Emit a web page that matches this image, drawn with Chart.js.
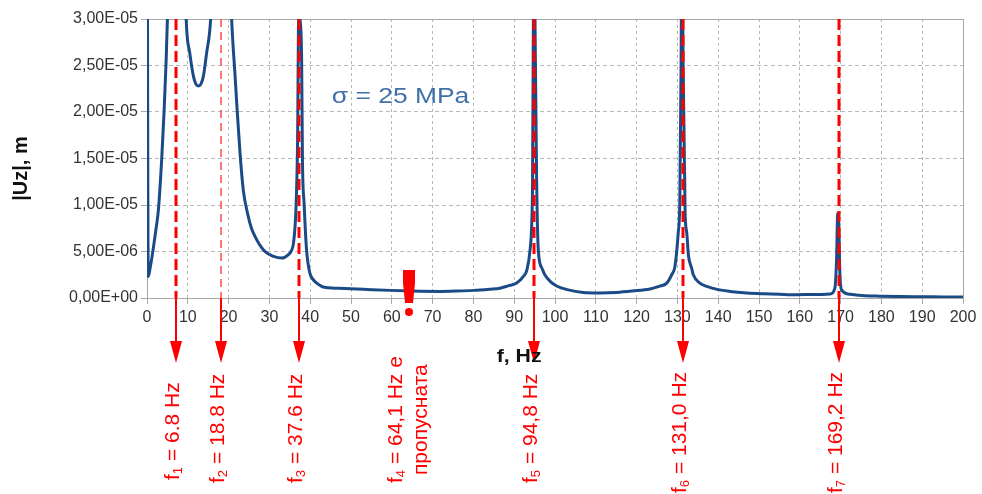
<!DOCTYPE html>
<html>
<head>
<meta charset="utf-8">
<script src="https://cdn.jsdelivr.net/npm/chart.js@4.4.1/dist/chart.umd.min.js"></script>
<style>
  html, body { margin: 0; padding: 0; background: #fff; }
  #wrap { width: 982px; height: 494px; }
</style>
</head>
<body>
<div id="wrap"><canvas id="chart" width="982" height="494"></canvas></div>
<script>
// frequency, Hz
const freq = [
  0, 0.3, 0.8, 1.5, 2.2, 2.8, 3.6, 4.2, 4.7, 5.0, 5.5, 6.0, 7.2, 8.5, 9.6, 10.5, 11.4, 12.0, 12.6, 13.2, 13.8, 14.6, 15.6, 16.5,
  18.2, 20.0, 20.75, 21.6, 22.1, 22.8, 23.6, 24.8, 25.6, 26.5, 27.5, 28.5, 29.7, 31.0, 33.0, 34.6, 35.4, 35.9, 36.5, 36.9, 37.2, 37.5, 37.9, 38.1,
  38.5, 39.1, 39.9, 40.7, 41.6, 43.2, 47, 51.4, 55, 59.6, 65, 71.8, 76, 80, 84, 86.5, 88.5, 90.6, 92.2, 93.1, 93.9,
  94.3, 94.5, 94.7, 94.9, 95.1, 95.5, 95.9, 96.8, 97.5, 99, 100.4, 103, 106.9, 111, 115.1, 119, 123.3, 125.5, 127.4, 128.6,
  129.4, 130.2, 130.6, 130.9, 131.1, 131.4, 131.9, 132.3, 132.7, 133.5, 133.9, 135.5, 137.2, 140, 142.9, 147, 151.1, 155, 159.2, 163,
  167.4, 168.6, 169.0, 169.3, 169.6, 169.8, 170.2, 172.3, 176, 179.7, 185, 190, 195, 200
];
// |Uz|, x 1e-6 m
const ampE6 = [
  60, 2.3, 3.3, 5.2, 7.4, 9.5, 14.9, 20.2, 25.6, 30, 40, 55, 120, 50, 30, 26.3, 23.8, 23.0, 22.8, 23.0, 23.8, 26.3, 30, 40,
  110, 40, 30, 23.8, 20.2, 15.6, 11.6, 8.8, 7.5, 6.6, 5.8, 5.2, 4.75, 4.47, 4.3, 4.65, 5.1, 5.9, 9.5, 16.7, 31, 30, 25.6, 14.9,
  10.2, 5.2, 2.7, 2.0, 1.6, 1.18, 1.05, 0.97, 0.9, 0.82, 0.75, 0.71, 0.75, 0.82, 0.95, 1.05, 1.3, 1.6, 2.3, 3.0, 5.2,
  8, 12.7, 30, 40, 30, 12.7, 5.2, 3.2, 2.5, 1.7, 1.29, 0.9, 0.6, 0.55, 0.6, 0.75, 0.97, 1.25, 1.6, 2.5,
  3.4, 7, 10.6, 25, 40, 25, 9, 7, 4.6, 3.2, 2.5, 1.6, 1.25, 0.9, 0.71, 0.55, 0.46, 0.4, 0.35, 0.38,
  0.43, 1.07, 4, 9.1, 7, 3, 0.9, 0.4, 0.25, 0.2, 0.15, 0.14, 0.12, 0.11
];

// natural frequencies marked below the axis
const modeFreq = [7.2, 18.2, 37.2, 64.1, 94.9, 131.3, 169.7];
const modeSub = ['1', '2', '3', '4', '5', '6', '7'];
const modeText = [' = 6.8 Hz', ' = 18.8 Hz', ' = 37.6 Hz', ' = 64,1 Hz е', ' = 94,8 Hz', ' = 131,0 Hz', ' = 169,2 Hz'];
const modeMissed = [false, false, false, true, false, false, false];
const missedNote = 'пропусната';
const sigmaLabel = 'σ = 25 MPa';

const FONT = '"Liberation Sans", Arial, sans-serif';
const RED = '#ff0000';

// layout of the vertical labels (bottom end of each text)
const labelBottom = [480, 483, 483, 483, 483, 493, 493];
const lineWidths = [3, 1.5, 3, 0, 3, 3, 3];

function sci(v) {
  if (Math.abs(v) < 1e-12) return '0,00E+00';
  const e = Math.floor(Math.log10(Math.abs(v)) + 1e-9);
  const m = v / Math.pow(10, e);
  const es = (e < 0 ? '-' : '+') + String(Math.abs(e)).padStart(2, '0');
  return m.toFixed(2).replace('.', ',') + 'E' + es;
}

function drawModeLabel(ctx, sub, text, cx, yBottom) {
  ctx.save();
  ctx.translate(cx, yBottom);
  ctx.rotate(-Math.PI / 2);
  ctx.fillStyle = RED;
  ctx.textBaseline = 'middle';
  ctx.textAlign = 'left';
  ctx.font = '21px ' + FONT;
  ctx.fillText('f', 0, 0);
  let w = ctx.measureText('f').width;
  ctx.font = '13px ' + FONT;
  ctx.fillText(sub, w, 5);
  w += ctx.measureText(sub).width;
  ctx.font = '21px ' + FONT;
  ctx.fillText(text, w, 0);
  ctx.restore();
}

const overlay = {
  id: 'overlay',
  beforeDatasetsDraw(chart) {
    const { ctx, chartArea: a } = chart;
    ctx.save();
    ctx.strokeStyle = '#a8a8a8';
    ctx.lineWidth = 1;
    ctx.beginPath();
    ctx.moveTo(a.left, a.top + 0.5);
    ctx.lineTo(a.right + 0.5, a.top + 0.5);
    ctx.lineTo(a.right + 0.5, a.bottom);
    ctx.stroke();
    ctx.restore();
  },
  afterDatasetsDraw(chart) {
    const { ctx, chartArea: a, scales: { x, y } } = chart;
    const y0 = y.getPixelForValue(0);

    ctx.save();
    // dashed red lines at the natural frequencies
    modeFreq.forEach((f, i) => {
      if (modeMissed[i]) return;
      const px = Math.round(x.getPixelForValue(f));
      ctx.strokeStyle = lineWidths[i] < 2 ? '#ff4a4a' : RED;
      ctx.lineWidth = lineWidths[i];
      ctx.setLineDash(lineWidths[i] < 2 ? [8, 5] : [11, 5]);
      ctx.beginPath();
      ctx.moveTo(px, a.top);
      ctx.lineTo(px, a.bottom);
      ctx.stroke();
    });
    ctx.setLineDash([]);

    // arrows below the axis
    modeFreq.forEach((f, i) => {
      if (modeMissed[i]) return;
      const px = Math.round(x.getPixelForValue(f));
      ctx.strokeStyle = RED;
      ctx.fillStyle = RED;
      ctx.lineWidth = 2;
      ctx.beginPath();
      ctx.moveTo(px, a.bottom);
      ctx.lineTo(px, a.bottom + 45);
      ctx.stroke();
      ctx.beginPath();
      ctx.moveTo(px - 6, a.bottom + 43);
      ctx.lineTo(px + 6, a.bottom + 43);
      ctx.lineTo(px, a.bottom + 65);
      ctx.closePath();
      ctx.fill();
    });

    // missed mode: red exclamation mark
    const mi = modeMissed.indexOf(true);
    const mx = Math.round(x.getPixelForValue(modeFreq[mi]));
    ctx.fillStyle = RED;
    ctx.fillRect(mx - 6, y0 - 28, 12, 14);
    ctx.beginPath();
    ctx.moveTo(mx - 6, y0 - 15);
    ctx.lineTo(mx + 6, y0 - 15);
    ctx.lineTo(mx + 4, y0 + 5);
    ctx.lineTo(mx - 4, y0 + 5);
    ctx.closePath();
    ctx.fill();
    ctx.beginPath();
    ctx.arc(mx, y0 + 14, 4, 0, Math.PI * 2);
    ctx.fill();

    // vertical labels
    modeFreq.forEach((f, i) => {
      const px = Math.round(x.getPixelForValue(f));
      if (modeMissed[i]) {
        drawModeLabel(ctx, modeSub[i], modeText[i], px - 13, labelBottom[i]);
        ctx.save();
        ctx.translate(px + 12, labelBottom[i] - 8);
        ctx.rotate(-Math.PI / 2);
        ctx.fillStyle = RED;
        ctx.textBaseline = 'middle';
        ctx.font = '21px ' + FONT;
        ctx.fillText(missedNote, 0, 0);
        ctx.restore();
      } else {
        drawModeLabel(ctx, modeSub[i], modeText[i], px - 3, labelBottom[i]);
      }
    });

    // sigma label
    ctx.save();
    ctx.translate(x.getPixelForValue(45.3), y.getPixelForValue(2.1e-5));
    ctx.scale(1.2, 1);
    ctx.fillStyle = '#4070a8';
    ctx.font = '22px ' + FONT;
    ctx.textBaseline = 'alphabetic';
    ctx.fillText(sigmaLabel, 0, 0);
    ctx.restore();

    // axis titles
    ctx.fillStyle = '#111';
    ctx.textAlign = 'center';
    ctx.textBaseline = 'middle';
    ctx.save();
    ctx.translate(x.getPixelForValue(91.2), a.bottom + 59);
    ctx.scale(1.12, 1);
    ctx.font = 'bold 19px ' + FONT;
    ctx.fillText('f, Hz', 0, 0);
    ctx.restore();
    ctx.save();
    ctx.translate(a.left - 126, (a.top + a.bottom) / 2 + 10);
    ctx.rotate(-Math.PI / 2);
    ctx.font = 'bold 20px ' + FONT;
    ctx.fillText('|Uz|, m', 0, 0);
    ctx.restore();

    ctx.restore();
  }
};

const points = freq.map((f, i) => ({ x: f, y: ampE6[i] * 1e-6 }));

new Chart(document.getElementById('chart'), {
  type: 'line',
  data: {
    datasets: [{
      data: points,
      borderColor: '#1b4b87',
      borderWidth: 3,
      pointRadius: 0,
      cubicInterpolationMode: 'monotone',
      fill: false
    }]
  },
  options: {
    responsive: false,
    animation: false,
    devicePixelRatio: 1,
    layout: { padding: { top: 19, right: 19, left: 0, bottom: 0 } },
    plugins: { legend: { display: false }, tooltip: { enabled: false } },
    scales: {
      x: {
        type: 'linear', min: 0, max: 200,
        ticks: { stepSize: 10, color: '#333', font: { size: 16, family: FONT }, padding: 4, maxRotation: 0, autoSkip: false },
        grid: { color: '#b8b8b8', tickLength: 6, tickColor: '#a8a8a8', tickBorderDash: [1, 0] },
        border: { color: '#a8a8a8', width: 1, dash: [3, 3] },
        afterFit: s => { s.height = 196; }
      },
      y: {
        min: 0, max: 3e-5,
        ticks: { stepSize: 5e-6, color: '#333', font: { size: 16, family: FONT }, padding: 3, callback: v => sci(v) },
        grid: { color: '#b8b8b8', tickLength: 6, tickColor: '#a8a8a8', tickBorderDash: [1, 0] },
        border: { color: '#a8a8a8', width: 1, dash: [4, 3] },
        afterFit: s => { s.width = 147; }
      }
    }
  },
  plugins: [overlay]
});
</script>
</body>
</html>
